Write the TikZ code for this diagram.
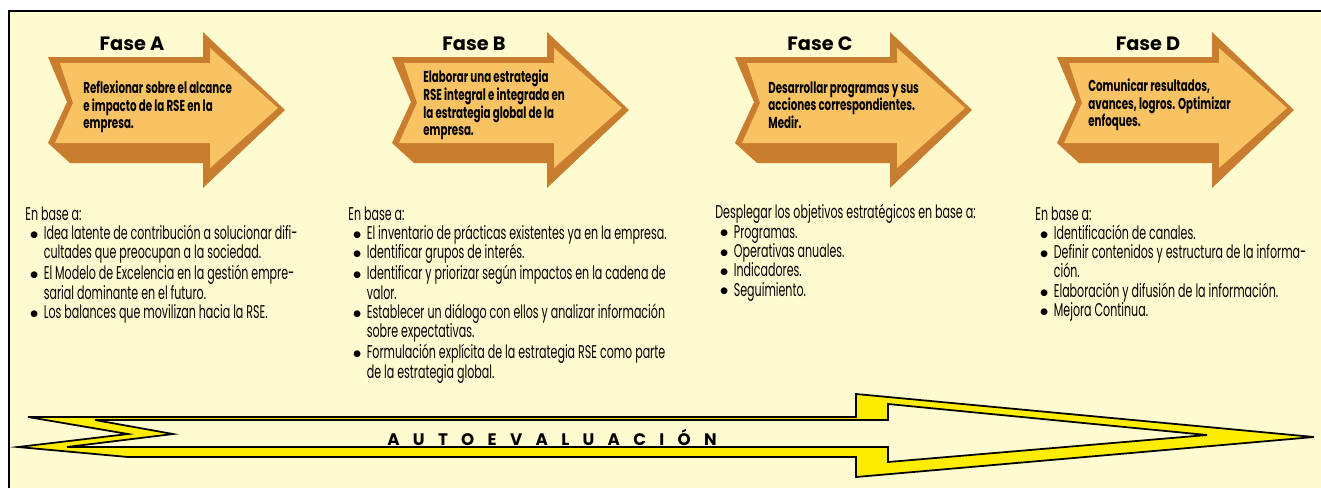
\documentclass[tikz,border=0pt]{standalone}
\usepackage{fontspec}
\setmainfont{Poppins}
\newfontfamily\condfont[FakeStretch=0.6]{Poppins}
\newfontfamily\condbold[FakeStretch=0.65]{Poppins Bold}
\newfontfamily\simbolos{DejaVu Sans}
\usetikzlibrary{positioning}

\definecolor{crema}{RGB}{255,251,208}
\definecolor{naranjaoscuro}{RGB}{201,125,46}
\definecolor{naranjaclaro}{RGB}{249,195,100}
\definecolor{amarillo}{RGB}{255,237,0}

% vinetas de las listas
\newcommand{\bul}{\hspace*{0.1cm}\makebox[0.27cm][l]{\raisebox{1.3pt}{\simbolos\fontsize{5}{5}\selectfont ●}}}
\newcommand{\sig}{\hspace*{0.37cm}}

\begin{document}
\begin{tikzpicture}[x=0.02cm, y=-0.02cm,
		% sombra y cuerpo de las flechas de fase
		sombra/.style={fill=naranjaoscuro, draw=none},
		cuerpo/.style={fill=naranjaclaro, draw=none},
		% titulos de fase
		fase/.style={font=\bfseries\fontsize{11}{13}\selectfont, inner sep=0pt},
		% texto dentro de las flechas
		accion/.style={font=\condbold\fontsize{9}{10}\selectfont,
			align=left, anchor=west, inner sep=0pt},
		% listas de abajo
		lista/.style={font=\condfont\fontsize{10.5}{11}\selectfont,
			align=left, anchor=north west, inner sep=0pt},
		% flecha de autoevaluacion
		borde/.style={draw=black, line width=1pt, line join=miter}
		]
		\useasboundingbox (0,0) rectangle (1321,488);
		\fill[white] (0,0) rectangle (1321,488);
		\fill[crema] (9,11) rectangle (1321,488);
		\draw[line width=1.2pt] (9,488) -- (9,11) -- (1321,11);
		
		% --- FLECHAS DE FASE ---
		\foreach \dx in {0,344,687,1009}{
			\begin{scope}[shift={(\dx,0)}]
				\fill[sombra] (48,57) -- (203,57) -- (203,32) -- (285,110) -- (203,188)
				-- (203,163) -- (70,163) -- (48,143) -- (67,102) -- cycle;
				\fill[cuerpo] (60,63) -- (210,63) -- (210,48) -- (278,108) -- (210,168)
				-- (210,143) -- (55,143) -- (73,103) -- cycle;
			\end{scope}
		}
		
		\node[fase] (faseA) at (132,44) {Fase A};
		\node[fase] (faseB) at (474,44) {Fase B};
		\node[fase] (faseC) at (820,44) {Fase C};
		\node[fase] (faseD) at (1148,44) {Fase D};
		
		\node[accion] (accA) at (83,107) {Reflexionar sobre el alcance\\e impacto de la RSE en la\\empresa.};
		\node[accion] (accB) at (423,105) {Elaborar una estrategia\\RSE integral e integrada en\\la estrategia global de la\\empresa.};
		\node[accion] (accC) at (768,105) {Desarrollar programas y sus\\acciones correspondientes.\\Medir.};
		\node[accion] (accD) at (1088,105) {Comunicar resultados,\\avances, logros. Optimizar\\enfoques.};
		
		% --- LISTAS ---
		\node[lista] (listaA) at (25,206) {En base a:\\
			\bul Idea latente de contribución a solucionar difi-\\
			\sig cultades que preocupan a la sociedad.\\
			\bul El Modelo de Excelencia en la gestión empre-\\
			\sig sarial dominante en el futuro.\\
			\bul Los balances que movilizan hacia la RSE.};
		
		\node[lista] (listaB) at (348,206) {En base a:\\
			\bul El inventario de prácticas existentes ya en la empresa.\\
			\bul Identificar grupos de interés.\\
			\bul Identificar y priorizar según impactos en la cadena de\\
			\sig valor.\\
			\bul Establecer un diálogo con ellos y analizar información\\
			\sig sobre expectativas.\\
			\bul Formulación explícita de la estrategia RSE como parte\\
			\sig de la estrategia global.};
		
		\node[lista] (listaC) at (715,204) {Desplegar los objetivos estratégicos en base a:\\
			\bul Programas.\\
			\bul Operativas anuales.\\
			\bul Indicadores.\\
			\bul Seguimiento.};
		
		\node[lista] (listaD) at (1035,206) {En base a:\\
			\bul Identificación de canales.\\
			\bul Definir contenidos y estructura de la informa-\\
			\sig ción.\\
			\bul Elaboración y difusión de la información.\\
			\bul Mejora Continua.};
		
		% --- AUTOEVALUACION ---
		\fill[amarillo, borde] (28,417) -- (856,417) -- (856,394) -- (1314,437) -- (856,477)
		-- (856,457) -- (128,457) -- (18,447) -- (128,434) -- cycle;
		\fill[crema, borde] (95,420) -- (888,420) -- (888,404) -- (1207,435) -- (888,462)
		-- (888,447) -- (67,447) -- (173,434) -- cycle;
		\node[font=\bfseries\fontsize{9.5}{10}\selectfont\addfontfeature{LetterSpace=80}] (autoeval) at (552,437) {AUTOEVALUACIÓN};
		
	\end{tikzpicture}
\end{document}
